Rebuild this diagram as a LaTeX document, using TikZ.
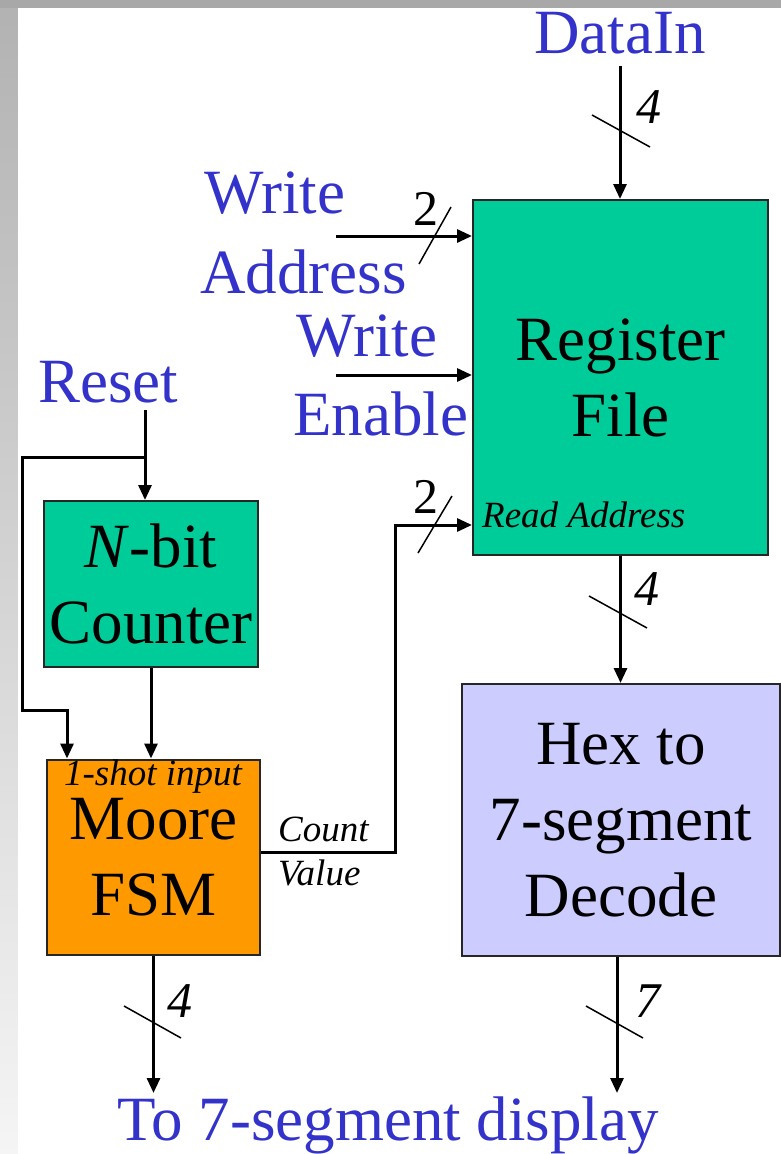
\documentclass[tikz,border=0pt]{standalone}
\usepackage{fontspec}
\setmainfont{Liberation Serif}
\usetikzlibrary{arrows.meta}
\definecolor{regcol}{RGB}{0,204,153}
\definecolor{fsmcol}{RGB}{255,153,0}
\definecolor{hexcol}{RGB}{204,204,255}
\definecolor{sigblue}{RGB}{51,51,204}
\begin{document}
\begin{tikzpicture}[x=1pt, y=-1pt]
\tikzstyle{block}    = [rectangle, draw=black!85, line width=2pt, align=center, inner sep=0pt, font=\fontsize{63}{76}\selectfont]
\tikzstyle{signal}   = [text=sigblue, inner sep=0pt, font=\fontsize{63}{76}\selectfont]
\tikzstyle{note}     = [inner sep=0pt, font=\fontsize{37}{43}\selectfont\itshape]
\tikzstyle{buswidth} = [inner sep=0pt, font=\fontsize{50}{50}\selectfont]
\tikzstyle{arrow}    = [line width=3pt, -{Triangle[length=15pt, width=13pt]}]
\tikzstyle{busmark}  = [line width=1.5pt]

\useasboundingbox (0,0) rectangle (781,1154);
\fill[gray!68] (0,0) rectangle (781,1154);
\shade[top color=gray!60, bottom color=gray!8] (0,8) rectangle (18,1154);
\fill[white] (18,8) rectangle (781,1154);

\node (regfile) [block, fill=regcol, minimum width=295pt, minimum height=355pt] at (620.5,377.5) {Register\\File};
\node (counter) [block, fill=regcol, minimum width=214pt, minimum height=166pt] at (151,584) {\textit{N}-bit\\Counter};
\node (fsm)     [block, fill=fsmcol, minimum width=213pt, minimum height=195pt] at (153.5,857) {Moore\\FSM};
\node (hex)     [block, fill=hexcol, minimum width=318pt, minimum height=272pt] at (621,820) {Hex to\\7-segment\\Decode};

\node (rdaddr)  [note, anchor=base west] at (482,527) {Read Address};
\node (oneshot) [note, anchor=base]      at (153,785) {1-shot input};
\node (count)   [note, anchor=base west] at (278,841) {Count};
\node (value)   [note, anchor=base west] at (278,885) {Value};

\node (datain)  [signal, anchor=base]      at (620,53)   {DataIn};
\node (wawrite) [signal, anchor=base west] at (204,213)  {Write};
\node (waaddr)  [signal, anchor=base west] at (200,293)  {Address};
\node (wewrite) [signal, anchor=base west] at (296,356)  {Write};
\node (weenab)  [signal, anchor=base west] at (293,435)  {Enable};
\node (reset)   [signal, anchor=base west] at (38,402)   {Reset};
\node (display) [signal, anchor=base]      at (388,1140) {To 7-segment display};

\node (w_din)  [buswidth, anchor=base west] at (636,123)  {\textit{4}};
\node (w_wa)   [buswidth, anchor=base west] at (413,225)  {2};
\node (w_ra)   [buswidth, anchor=base west] at (413,513)  {2};
\node (w_dec)  [buswidth, anchor=base west] at (634,605)  {\textit{4}};
\node (w_fsm)  [buswidth, anchor=base west] at (167,1017) {\textit{4}};
\node (w_seg)  [buswidth, anchor=base west] at (635,1017) {\textit{7}};

\coordinate (wa_in)      at (336,236);
\coordinate (we_in)      at (336,375);
\coordinate (rst_top)    at (145,410);
\coordinate (rst_tap)    at (145,457);
\coordinate (rst_corner) at (22,710);
\coordinate (rd_bend)    at (395,525);
\coordinate (disp_l)     at (154,1093);
\coordinate (disp_r)     at (617,1093);

\draw [arrow] ([yshift=-12pt]datain.south) -- (datain.south |- regfile.north);
\draw [arrow] (wa_in) -- (wa_in -| regfile.west);
\draw [arrow] (we_in) -- (we_in -| regfile.west);
\draw [arrow] (rst_top) -- (rst_top |- counter.north);
\draw [arrow] (rst_tap) -| (rst_corner) -| ([xshift=21pt]fsm.north west);
\draw [arrow] (counter.south) -- (counter.south |- fsm.north);
\draw [arrow] ([yshift=5pt]fsm.east) -| (rd_bend) -- (rd_bend -| regfile.west);
\draw [arrow] (regfile.south) -- (regfile.south |- hex.north);
\draw [arrow] (fsm.south) -- (fsm.south |- disp_l);
\draw [arrow] (disp_r |- hex.south) -- (disp_r);

\draw [busmark] (592,115) -- (650,147);
\draw [busmark] (419,264) -- (451,207);
\draw [busmark] (418,553) -- (452,496);
\draw [busmark] (589,596) -- (647,628);
\draw [busmark] (124,1006) -- (181,1038);
\draw [busmark] (586,1006) -- (643,1038);
\end{tikzpicture}
\end{document}
